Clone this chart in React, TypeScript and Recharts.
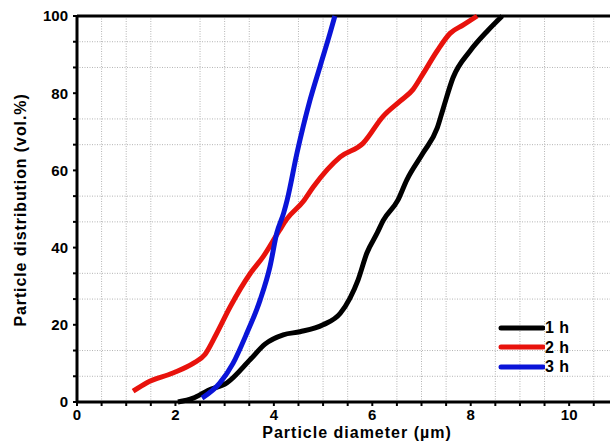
import React from "react"
import { LineChart, Line, XAxis, YAxis, ReferenceLine } from "recharts"

// 1 h curve
const h1X = [2.05, 2.36, 2.66, 3.05, 3.52, 3.82, 4.19, 4.53, 5.0, 5.35, 5.55, 5.71, 5.89, 6.1, 6.22, 6.52, 6.7, 7.03, 7.32, 7.44, 7.64, 7.99, 8.33, 8.64]
const h1Y = [0, 1, 3, 5, 11, 15, 17.4, 18.2, 20, 23, 27, 31.6, 38.6, 43.8, 47, 52.3, 57.5, 64.5, 71, 76, 84, 91, 96, 100]

// 2 h curve
const h2X = [1.14, 1.42, 1.95, 2.36, 2.6, 2.84, 3.11, 3.52, 3.78, 4.12, 4.27, 4.6, 4.8, 5.35, 5.81, 6.22, 6.57, 6.83, 7.03, 7.32, 7.58, 7.85, 8.13]
const h2Y = [2.8, 5, 7.5, 10, 12.3, 17.8, 24.6, 33.3, 37.6, 44.6, 47.5, 52, 55.7, 63.5, 67, 74, 78, 81, 85, 91, 95.5, 97.7, 100]

// 3 h curve
const h3X = [2.54, 2.9, 3.17, 3.45, 3.72, 3.92, 4.06, 4.2, 4.27, 4.47, 4.73, 4.94, 5.14, 5.24]
const h3Y = [1, 4.9, 10, 17.8, 26.4, 35, 43.8, 49, 52.3, 64.5, 78, 87, 95.5, 100]

const seriesNames = ["1 h", "2 h", "3 h"]
const seriesColors = ["#000000", "#e8120c", "#0a14d8"]

const xTicks = Array.from({ length: 22 }, (_, i) => i * 0.5)
const yTicks = Array.from({ length: 16 }, (_, i) => (i * 20) / 3)

const isMajorX = (v: number) => Math.abs(v / 2 - Math.round(v / 2)) < 1e-6
const isMajorY = (v: number) => Math.abs(v / 20 - Math.round(v / 20)) < 1e-6

// Origin-style grid: dotted lines only at minor ticks
const xGrid = xTicks.filter((v) => v > 0 && !isMajorX(v))
const yGrid = yTicks.filter((v) => v > 0 && v < 100 && !isMajorY(v))

const toPoints = (xs: number[], ys: number[]) => xs.map((x, i) => ({ x, y: ys[i] }))
const seriesData = [toPoints(h1X, h1Y), toPoints(h2X, h2Y), toPoints(h3X, h3Y)]

const FONT = "'Liberation Sans', Arial, sans-serif"
const tickStyle = { fontSize: 15, fontWeight: 700, fill: "#000", fontFamily: FONT }

const LegendBox = () => (
    <div
        style={{
            position: "absolute",
            left: 498,
            top: 318,
            fontFamily: FONT,
            fontWeight: 700,
            fontSize: 16,
            lineHeight: "19.5px",
            letterSpacing: 0.5,
        }}
    >
        {seriesNames.map((name, i) => (
            <div key={name} style={{ display: "flex", alignItems: "center" }}>
                <svg width={47} height={10}>
                    <line x1={3} y1={5} x2={45} y2={5} stroke={seriesColors[i]} strokeWidth={5} strokeLinecap="round" />
                </svg>
                <span>{name}</span>
            </div>
        ))}
    </div>
)

export default function App() {
    return (
        <div style={{ position: "absolute", left: 0, top: 0, width: 610, height: 443, background: "#fff", overflow: "hidden" }}>
            <LineChart width={610} height={443} margin={{ top: 16, right: 0, left: 0, bottom: 0 }}>
                {xGrid.map((v) => (
                    <ReferenceLine key={"gx" + v} x={v} stroke="#b4b4b4" strokeDasharray="1 1.5" strokeWidth={1} />
                ))}
                {yGrid.map((v) => (
                    <ReferenceLine key={"gy" + v} y={v} stroke="#b4b4b4" strokeDasharray="1 1.5" strokeWidth={1} />
                ))}
                <XAxis
                    type="number"
                    dataKey="x"
                    domain={[0, 10.83]}
                    allowDataOverflow
                    ticks={xTicks}
                    interval={0}
                    tickFormatter={(v: number) => (isMajorX(v) ? String(v) : "")}
                    tick={tickStyle}
                    tickSize={4}
                    tickMargin={3}
                    axisLine={{ stroke: "#000", strokeWidth: 3 }}
                    tickLine={{ stroke: "#000", strokeWidth: 2 }}
                    height={41}
                />
                <YAxis
                    type="number"
                    domain={[0, 100]}
                    ticks={yTicks}
                    interval={0}
                    tickFormatter={(v: number) => (isMajorY(v) ? String(Math.round(v)) : "")}
                    tick={tickStyle}
                    tickSize={4}
                    tickMargin={5}
                    axisLine={{ stroke: "#000", strokeWidth: 3 }}
                    tickLine={{ stroke: "#000", strokeWidth: 2 }}
                    width={77}
                />
                <ReferenceLine y={100} stroke="#000" strokeWidth={3} />
                {seriesData.map((d, i) => (
                    <Line
                        key={seriesNames[i]}
                        data={d}
                        dataKey="y"
                        name={seriesNames[i]}
                        type="monotone"
                        stroke={seriesColors[i]}
                        strokeWidth={5}
                        dot={false}
                        isAnimationActive={false}
                    />
                ))}
            </LineChart>
            <LegendBox />
            <div
                style={{
                    position: "absolute",
                    left: 357,
                    top: 424,
                    transform: "translateX(-50%)",
                    fontFamily: FONT,
                    fontWeight: 700,
                    fontSize: 16,
                    letterSpacing: 1,
                    whiteSpace: "nowrap",
                }}
            >
                Particle diameter (µm)
            </div>
            <div
                style={{
                    position: "absolute",
                    left: 21,
                    top: 210,
                    transform: "translate(-50%, -50%) rotate(-90deg)",
                    fontFamily: FONT,
                    fontWeight: 700,
                    fontSize: 16,
                    letterSpacing: 0.9,
                    whiteSpace: "nowrap",
                }}
            >
                Particle distribution (vol.%)
            </div>
        </div>
    )
}
